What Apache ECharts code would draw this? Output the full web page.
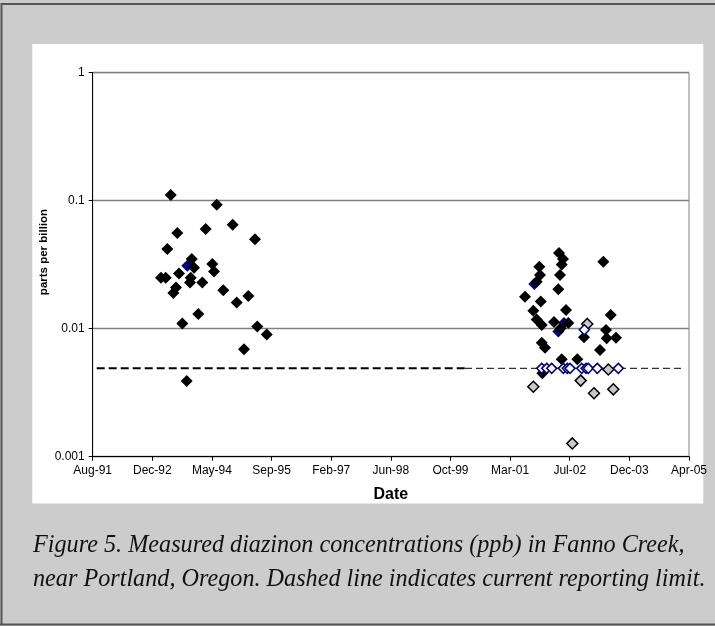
<!DOCTYPE html>
<html>
<head>
<meta charset="utf-8">
<script src="https://cdn.jsdelivr.net/npm/echarts@6/dist/echarts.min.js"></script>
<style>
  html, body { margin: 0; padding: 0; background: #cccccc; }
  #chart { width: 715px; height: 626px; }
</style>
</head>
<body>
<div id="chart"></div>
<script>
// ---- Data (decimal year of sample, concentration in ppb) ----
const xTickLabels = ['Aug-91','Dec-92','May-94','Sep-95','Feb-97','Jun-98','Oct-99','Mar-01','Jul-02','Dec-03','Apr-05'];
const yTickLabels = ['0.001','0.01','0.1','1'];

// detected concentrations (black diamonds)
const detectYears = [
  1993.405, 1994.461, 1994.828, 1993.556, 1994.208, 1995.340, 1993.327, 1993.887, 1993.940, 1994.360,
  1994.399, 1993.182, 1993.290, 1993.595, 1993.864, 1993.848, 1994.130, 1993.526, 1993.464, 1994.612,
  1995.186, 1994.920, 1994.038, 1993.671, 1995.393, 1995.609, 1995.087, 1993.772,
  2002.319, 2002.411, 2002.381, 2003.336, 2001.867, 2001.883, 2001.807, 2002.342, 2001.538, 2002.303,
  2001.899, 2001.729, 2002.480, 2001.807, 2001.922, 2002.204, 2002.532, 2002.358, 2003.506, 2003.398,
  2003.414, 2003.627, 2002.893, 2001.922, 2001.997, 2003.260, 2002.381, 2002.739, 2001.936
];
const detectValues = [
  0.111, 0.093, 0.065, 0.056, 0.060, 0.050, 0.042, 0.035, 0.030, 0.032,
  0.028, 0.025, 0.025, 0.027, 0.025, 0.023, 0.023, 0.021, 0.019, 0.020,
  0.018, 0.016, 0.013, 0.011, 0.0104, 0.0090, 0.0069, 0.0039,
  0.039, 0.035, 0.0317, 0.0334, 0.0305, 0.0263, 0.0233, 0.0263, 0.0178, 0.0203,
  0.0163, 0.0138, 0.0140, 0.0118, 0.0107, 0.0113, 0.0111, 0.0101, 0.0128, 0.00977,
  0.00841, 0.00851, 0.00857, 0.00777, 0.00710, 0.00682, 0.00577, 0.00577, 0.00448
];

// blue filled diamonds
const blueYears = [1993.786, 2001.752, 2002.434, 2002.303];
const blueValues = [0.031, 0.0223, 0.0111, 0.0095];

// open diamonds (non-detects)
const openYears = [2002.900, 2001.922, 2002.036, 2002.151, 2002.418, 2002.509, 2002.571, 2002.840, 2002.939, 2002.991, 2003.198, 2003.680];
const openValues = [0.0098, 0.0049, 0.0049, 0.0049, 0.0049, 0.0049, 0.0049, 0.0049, 0.0049, 0.0049, 0.0049, 0.0049];

// grey diamonds (estimated below limit)
const greyYears = [2002.968, 2001.729, 2002.817, 2003.122, 2003.565, 2003.451, 2002.624];
const greyValues = [0.0109, 0.00352, 0.00393, 0.00313, 0.00336, 0.0048, 0.00127];

// reporting limit (dashed line): earlier and current segments
const limitOldYears = [1991.706, 2000.161];
const limitOldValues = [0.0049, 0.0049];
const limitNewYears = [2000.161, 2005.166];
const limitNewValues = [0.0049, 0.0049];

const caption1 = 'Figure 5. Measured diazinon concentrations (ppb) in Fanno Creek,';
const caption2 = 'near Portland, Oregon. Dashed line indicates current reporting limit.';

// ---- helpers ----
const ORIGIN_YEAR = 1991 + 224 / 365;  // 13 Aug 1991, axis origin
const TICK_DAYS = 500;
function toDays(y) { return (y - ORIGIN_YEAR) * 365.25; }
function pairs(xs, ys) { return xs.map((x, i) => [toDays(x), ys[i]]); }

// fit caption font to width
const cv = document.createElement('canvas').getContext('2d');
cv.font = 'italic 24px "Liberation Serif"';
const capW = cv.measureText(caption2).width;
const capSize = Math.round(24 * 672 / capW * 10) / 10;

const chart = echarts.init(document.getElementById('chart'), null, { renderer: 'canvas' });
const axisFont = { fontFamily: 'Liberation Sans, Arial, sans-serif', fontSize: 12, color: '#000' };

const option = {
  backgroundColor: '#cccccc',
  animation: false,
  grid: { left: 92.7, right: 26, top: 72.7, bottom: 169.3, show: true, borderColor: '#808080', borderWidth: 1, backgroundColor: 'transparent' },
  xAxis: {
    type: 'value', min: 0, max: TICK_DAYS * 10, interval: TICK_DAYS,
    axisLine: { lineStyle: { color: '#000', width: 1 } },
    axisTick: { show: true, length: 4, lineStyle: { color: '#000' } },
    splitLine: { show: false },
    axisLabel: Object.assign({ margin: 8, formatter: v => xTickLabels[Math.round(v / TICK_DAYS)] || '' }, axisFont),
    name: 'Date', nameLocation: 'middle', nameGap: 30,
    nameTextStyle: { fontFamily: 'Liberation Sans, Arial, sans-serif', fontSize: 16, fontWeight: 'bold', color: '#000' }
  },
  yAxis: {
    type: 'log', logBase: 10, min: 0.001, max: 1,
    axisLine: { show: true, lineStyle: { color: '#000', width: 1 } },
    axisTick: { show: true, length: 4, lineStyle: { color: '#000' } },
    splitLine: { show: true, lineStyle: { color: '#808080', width: 1.4 } },
    axisLabel: Object.assign({ margin: 8, formatter: v => yTickLabels[Math.round(Math.log10(v)) + 3] || '' }, axisFont)
  },
  graphic: [
    { type: 'rect', z: -10, silent: true, shape: { x: 32.3, y: 44, width: 671, height: 459.5 }, style: { fill: '#ffffff' } },
    { type: 'polyline', z: 10, silent: true, shape: { points: [[1.5, 625], [1.5, 4], [715, 4]] }, style: { stroke: '#555555', lineWidth: 2, fill: null } },
    { type: 'line', z: 10, silent: true, shape: { x1: 0, y1: 624.5, x2: 715, y2: 624.5 }, style: { stroke: '#555555', lineWidth: 2 } },
    { type: 'text', z: 10, silent: true, rotation: Math.PI / 2, x: 44, y: 252,
      style: { text: 'parts per billion', fill: '#000', font: 'bold 11.5px "Liberation Sans", Arial, sans-serif', textAlign: 'center', textVerticalAlign: 'middle' } },
    { type: 'text', z: 10, silent: true, x: 33, y: 546,
      style: { text: caption1, fill: '#111', font: 'italic ' + capSize + 'px "Liberation Serif", serif', textAlign: 'left', textVerticalAlign: 'middle' } },
    { type: 'text', z: 10, silent: true, x: 33, y: 580,
      style: { text: caption2, fill: '#111', font: 'italic ' + capSize + 'px "Liberation Serif", serif', textAlign: 'left', textVerticalAlign: 'middle' } }
  ],
  series: [
    { name: 'limit-old', type: 'line', data: pairs(limitOldYears, limitOldValues), showSymbol: false, symbol: 'none', z: 1,
      lineStyle: { color: '#000', width: 2, type: [8, 4] }, silent: true },
    { name: 'limit-new', type: 'line', data: pairs(limitNewYears, limitNewValues), showSymbol: false, symbol: 'none', z: 1,
      lineStyle: { color: '#333', width: 1.1, type: [7, 4] }, silent: true },
    { name: 'blue', type: 'scatter', data: pairs(blueYears, blueValues), symbol: 'diamond', symbolSize: 12, z: 2,
      itemStyle: { color: '#000080', opacity: 1 } },
    { name: 'detect', type: 'scatter', data: pairs(detectYears, detectValues), symbol: 'diamond', symbolSize: 12, z: 3,
      itemStyle: { color: '#000000', opacity: 1 } },
    { name: 'grey', type: 'scatter', data: pairs(greyYears, greyValues), symbol: 'diamond', symbolSize: 11, z: 4,
      itemStyle: { color: '#c8c8c8', borderColor: '#000', borderWidth: 1.5, opacity: 1 } },
    { name: 'open', type: 'scatter', data: pairs(openYears, openValues), symbol: 'diamond', symbolSize: 10, z: 5,
      itemStyle: { color: '#ffffff', borderColor: '#000080', borderWidth: 1.5, opacity: 1 } }
  ]
};
chart.setOption(option);
</script>
</body>
</html>
